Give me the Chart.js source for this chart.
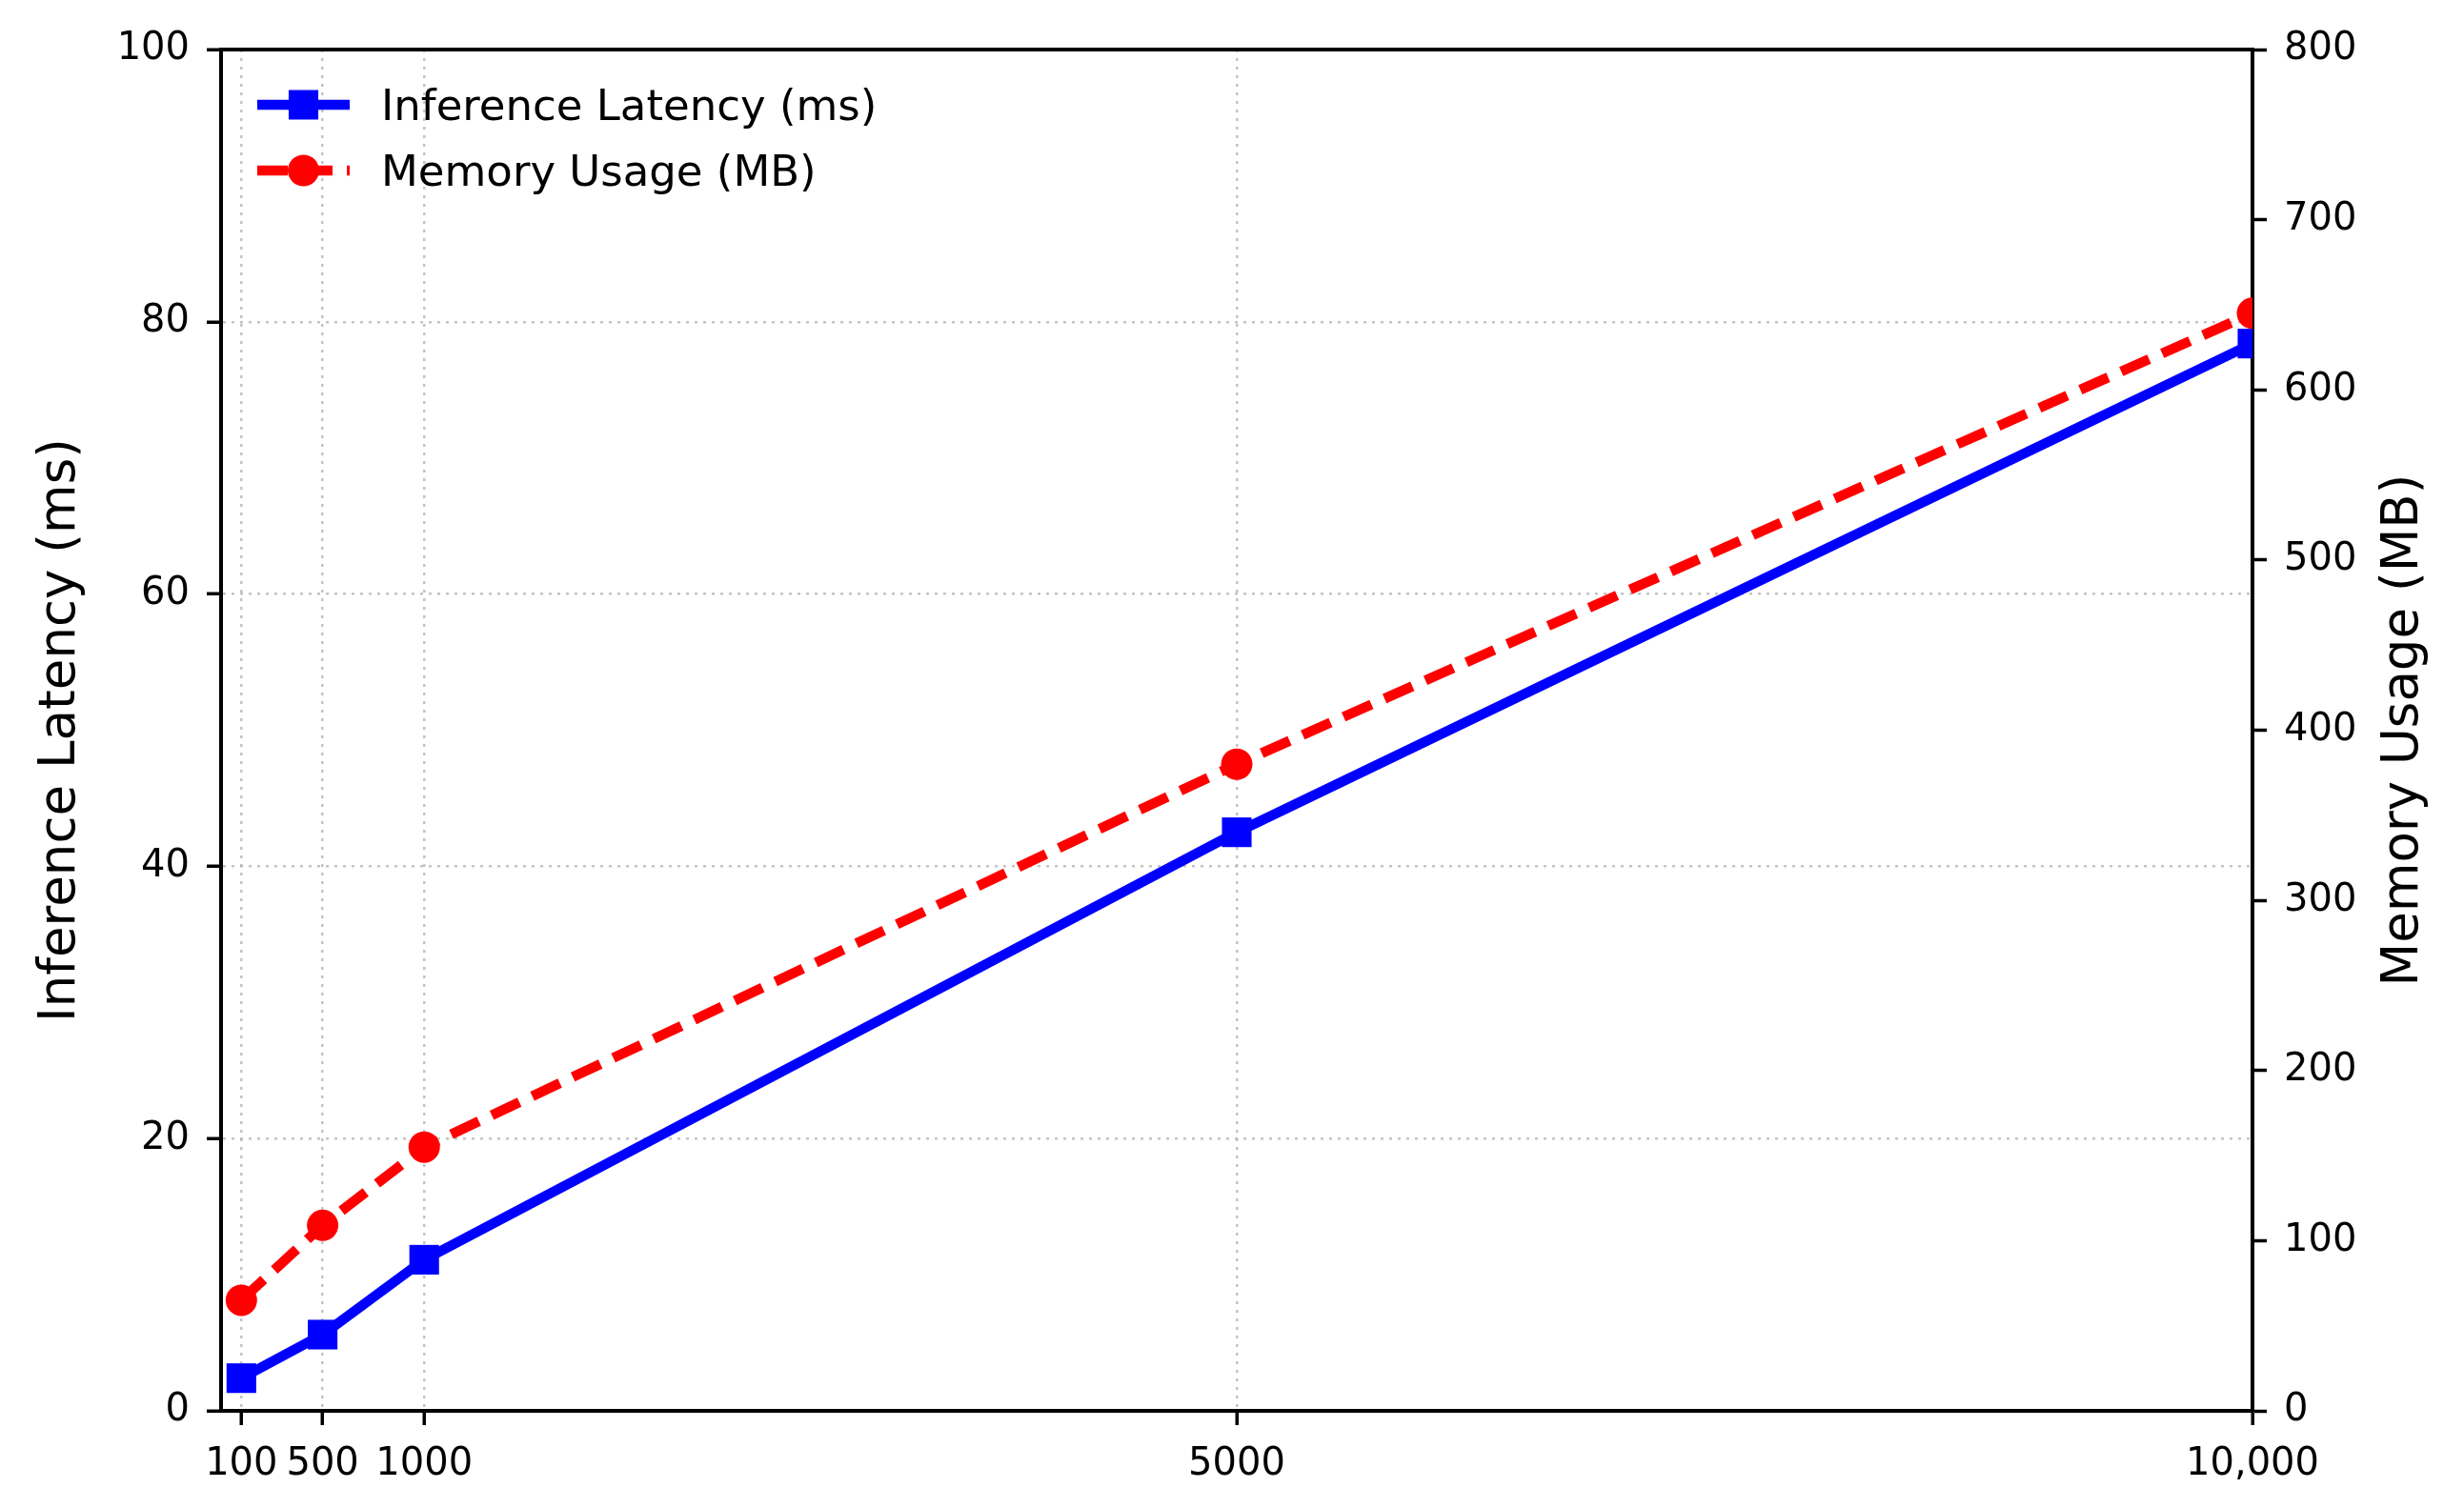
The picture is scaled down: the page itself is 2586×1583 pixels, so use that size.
<!DOCTYPE html>
<html>
<head>
<meta charset="utf-8">
<script src="https://cdn.jsdelivr.net/npm/chart.js@4.4.1/dist/chart.umd.min.js"></script>
<style>
  html, body { margin: 0; padding: 0; background: #fff; }
  #wrap { width: 2586px; height: 1583px; position: relative; }
</style>
</head>
<body>
<div id="wrap"><canvas id="latencyChart"></canvas></div>
<script>
// Data
const batchSizes = [100, 500, 1000, 5000, 10000];
const xTickLabels = ['100', '500', '1000', '5000', '10,000'];
const latencyMs = [2.4, 5.6, 11.1, 42.5, 78.4];
const memoryMb = [65, 109, 155, 380, 645];
const seriesNames = ['Inference Latency (ms)', 'Memory Usage (MB)'];
const axisTitles = ['Inference Latency (ms)', 'Memory Usage (MB)'];

const FONT = "'DejaVu Sans', sans-serif";
const BLUE = '#0000ff';
const RED = '#ff0000';
const GRID = 'rgba(176, 176, 176, 0.75)';

// Legend drawn inside the plot, top left, like the original
const insideLegend = {
    id: 'insideLegend',
    afterDatasetsDraw(chart) {
        const { ctx, chartArea } = chart;
        ctx.save();
        chart.data.datasets.forEach((ds, i) => {
            const y = chartArea.top + 58 + i * 69;
            const x0 = chartArea.left + 38;
            const x1 = chartArea.left + 135;
            ctx.strokeStyle = ds.borderColor;
            ctx.lineWidth = ds.borderWidth;
            ctx.setLineDash(ds.borderDash || []);
            ctx.beginPath();
            ctx.moveTo(x0, y);
            ctx.lineTo(x1, y);
            ctx.stroke();
            ctx.setLineDash([]);
            ctx.fillStyle = ds.pointBackgroundColor;
            Chart.helpers.drawPoint(ctx, {
                pointStyle: ds.pointStyle, radius: ds.pointRadius, rotation: 0, borderWidth: 0
            }, (x0 + x1) / 2, y);
            ctx.fillStyle = '#000';
            ctx.font = `45px ${FONT}`;
            ctx.textAlign = 'left';
            ctx.textBaseline = 'alphabetic';
            ctx.fillText(ds.label, chartArea.left + 168, y + 16);
        });
        ctx.restore();
    }
};

// Right axis title reads bottom-to-top, so draw it here
const rightTitle = {
    id: 'rightTitle',
    afterDraw(chart) {
        const { ctx, chartArea } = chart;
        const s = chart.scales.y2;
        ctx.save();
        ctx.translate(s.right - 63, (chartArea.top + chartArea.bottom) / 2);
        ctx.rotate(-Math.PI / 2);
        ctx.font = `53px ${FONT}`;
        ctx.fillStyle = '#000';
        ctx.textAlign = 'center';
        ctx.textBaseline = 'middle';
        ctx.fillText(axisTitles[1], 0, 0);
        ctx.restore();
    }
};

const tickFont = { family: FONT, size: 40 };
const gridOpts = { color: GRID, lineWidth: 2.5, tickColor: '#000', tickWidth: 3.5, tickLength: 15 };
const borderOpts = { color: '#000', width: 4, dash: [3, 6] };

const ctx = document.getElementById('latencyChart').getContext('2d');
new Chart(ctx, {
    type: 'line',
    data: {
        datasets: [{
            label: seriesNames[0],
            data: batchSizes.map((x, i) => ({ x, y: latencyMs[i] })),
            xAxisID: 'x',
            yAxisID: 'y',
            borderColor: BLUE,
            backgroundColor: BLUE,
            borderWidth: 10.5,
            pointStyle: 'rect',
            pointRadius: 22,
            pointBorderWidth: 0,
            pointBackgroundColor: BLUE,
            borderJoinStyle: 'round',
            tension: 0,
            clip: 0,
            order: 1
        }, {
            label: seriesNames[1],
            data: batchSizes.map((x, i) => ({ x, y: memoryMb[i] })),
            xAxisID: 'x',
            yAxisID: 'y2',
            borderColor: RED,
            backgroundColor: RED,
            borderWidth: 10.5,
            borderDash: [32, 15],
            pointStyle: 'circle',
            pointRadius: 16.5,
            pointBorderWidth: 0,
            pointBackgroundColor: RED,
            tension: 0,
            clip: 0,
            order: 0
        }]
    },
    options: {
        responsive: true,
        maintainAspectRatio: false,
        devicePixelRatio: 1,
        animation: false,
        layout: { padding: 0 },
        plugins: {
            legend: { display: false },
            tooltip: { enabled: false }
        },
        scales: {
            x: {
                type: 'linear',
                position: 'bottom',
                min: 0,
                max: 10000,
                afterBuildTicks: s => { s.ticks = batchSizes.map(v => ({ value: v })); },
                afterFit: s => { s.height = 102; },
                ticks: {
                    autoSkip: false, maxRotation: 0, minRotation: 0, padding: 18,
                    color: '#000', font: tickFont,
                    callback: (v, i) => xTickLabels[i]
                },
                grid: gridOpts,
                border: borderOpts
            },
            xTop: {
                type: 'linear',
                position: 'top',
                min: 0,
                max: 10000,
                afterFit: s => { s.height = 52; },
                ticks: { display: false },
                grid: { display: false },
                border: { display: true, color: '#000', width: 4 }
            },
            y: {
                type: 'linear',
                position: 'left',
                min: 0,
                max: 100,
                afterFit: s => { s.width = 232; },
                ticks: { stepSize: 20, padding: 18, color: '#000', font: tickFont },
                grid: gridOpts,
                border: borderOpts,
                title: {
                    display: true,
                    text: axisTitles[0],
                    color: '#000',
                    font: { family: FONT, size: 53 },
                    padding: { top: 32, bottom: 0 }
                }
            },
            y2: {
                type: 'linear',
                position: 'right',
                min: 0,
                max: 800,
                afterFit: s => { s.width = 222; },
                ticks: { stepSize: 100, padding: 18, color: '#000', font: tickFont },
                grid: { drawOnChartArea: false, tickColor: '#000', tickWidth: 3.5, tickLength: 15 },
                border: { color: '#000', width: 4 }
            }
        }
    },
    plugins: [insideLegend, rightTitle]
});
</script>
</body>
</html>
